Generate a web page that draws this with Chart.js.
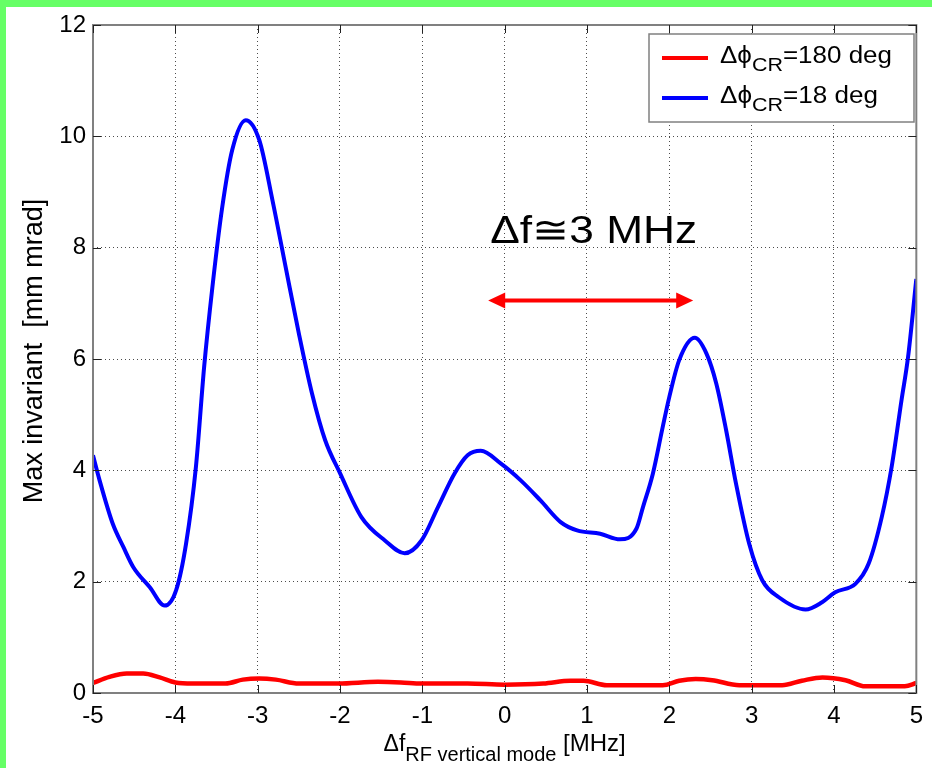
<!DOCTYPE html>
<html>
<head>
<meta charset="utf-8">
<title>Max invariant vs RF frequency offset</title>
<script src="https://cdn.jsdelivr.net/npm/chart.js@4/dist/chart.umd.min.js"></script>
<style>
  html, body { margin: 0; padding: 0; background: #fff; }
  canvas { display: block; }
</style>
</head>
<body>
<canvas id="invChart" width="932" height="768"></canvas>
<script>
// axis ticks
const X_TICKS = [-5, -4, -3, -2, -1, 0, 1, 2, 3, 4, 5]
const Y_TICKS = [0, 2, 4, 6, 8, 10, 12]

// dphi_CR = 180 deg
const RED_X = [-5.00, -4.80, -4.59, -4.39, -4.19, -4.00, -3.79, -3.39, -3.18, -2.98, -2.78, -2.50, -2.02, -1.54, -1.26, -1.01, -0.45, 0.00, 0.47, 0.80, 0.96, 1.24, 1.60, 1.92, 2.12, 2.32, 2.52, 2.85, 3.37, 3.61, 3.86, 4.14, 4.38, 4.86, 5.00]
const RED_Y = [0.18, 0.29, 0.35, 0.35, 0.28, 0.19, 0.17, 0.17, 0.24, 0.26, 0.24, 0.17, 0.17, 0.20, 0.19, 0.17, 0.17, 0.15, 0.17, 0.22, 0.22, 0.14, 0.14, 0.14, 0.22, 0.25, 0.23, 0.14, 0.14, 0.22, 0.28, 0.23, 0.12, 0.12, 0.18]

// dphi_CR = 18 deg
const BLUE_X = [-5.00, -4.92, -4.76, -4.63, -4.51, -4.31, -4.13, -3.99, -3.87, -3.75, -3.65, -3.55, -3.43, -3.31, -3.145, -2.98, -2.82, -2.66, -2.50, -2.34, -2.18, -2.00, -1.74, -1.455, -1.215, -1.01, -0.81, -0.61, -0.45, -0.29, -0.045, 0.195, 0.435, 0.68, 0.88, 1.16, 1.40, 1.60, 1.68, 1.80, 1.92, 2.00, 2.12, 2.31, 2.45, 2.57, 2.69, 2.81, 2.97, 3.13, 3.33, 3.655, 3.855, 4.015, 4.26, 4.42, 4.58, 4.70, 4.82, 4.90, 5.00]
const BLUE_Y = [4.27, 3.82, 3.04, 2.62, 2.26, 1.90, 1.57, 1.85, 2.68, 4.06, 5.86, 7.29, 8.73, 9.75, 10.29, 9.93, 8.85, 7.65, 6.46, 5.38, 4.54, 3.95, 3.16, 2.74, 2.51, 2.74, 3.34, 3.94, 4.27, 4.35, 4.12, 3.82, 3.46, 3.07, 2.92, 2.86, 2.76, 2.95, 3.34, 3.94, 4.78, 5.32, 5.98, 6.38, 6.10, 5.56, 4.72, 3.76, 2.68, 2.02, 1.72, 1.50, 1.63, 1.81, 1.96, 2.32, 3.16, 4.06, 5.26, 6.04, 7.44]

// frequency spacing annotation (double arrow + label)
const ARROW_X = [-0.20, 2.29]
const ARROW_Y = 7.05
const NOTE_TEXT = "\u0394f\u22453 MHz"

const FONT = "'Liberation Sans', Arial, Helvetica, sans-serif"
const GREEN = "#66ff66"
const FRAME = "#808080"

const toPoints = (xs, ys) => xs.map((x, i) => ({ x: x, y: ys[i] }))

// draws a run of text pieces (size, vertical shift) scaled horizontally by sx
function drawRich(ctx, parts, x, y, sx) {
  ctx.save()
  ctx.translate(x, y)
  ctx.scale(sx, 1)
  ctx.textAlign = "left"
  ctx.textBaseline = "alphabetic"
  let cx = 0
  parts.forEach((p) => {
    ctx.font = `${p.size}px ${FONT}`
    ctx.fillText(p.t, cx, p.dy || 0)
    cx += ctx.measureText(p.t).width
  })
  ctx.restore()
}

function richWidth(ctx, parts) {
  let w = 0
  parts.forEach((p) => {
    ctx.font = `${p.size}px ${FONT}`
    w += ctx.measureText(p.t).width
  })
  return w
}

const decorPlugin = {
  id: "decor",
  afterDraw(chart) {
    const ctx = chart.ctx
    const area = chart.chartArea
    const xs = chart.scales.x
    const ys = chart.scales.y

    ctx.save()

    // axes box
    ctx.strokeStyle = FRAME
    ctx.lineWidth = 2
    ctx.strokeRect(area.left, area.top, area.right - area.left, area.bottom - area.top)

    // inward tick marks on all four sides
    ctx.strokeStyle = "#222"
    ctx.lineWidth = 1
    ctx.beginPath()
    X_TICKS.forEach((v) => {
      const px = Math.round(xs.getPixelForValue(v)) + 0.5
      ctx.moveTo(px, area.bottom)
      ctx.lineTo(px, area.bottom - 8)
      ctx.moveTo(px, area.top)
      ctx.lineTo(px, area.top + 8)
    })
    Y_TICKS.forEach((v) => {
      const py = Math.round(ys.getPixelForValue(v)) + 0.5
      ctx.moveTo(area.left, py)
      ctx.lineTo(area.left + 8, py)
      ctx.moveTo(area.right, py)
      ctx.lineTo(area.right - 8, py)
    })
    ctx.stroke()

    // double arrow
    const ax0 = xs.getPixelForValue(ARROW_X[0])
    const ax1 = xs.getPixelForValue(ARROW_X[1])
    const ay = ys.getPixelForValue(ARROW_Y)
    const head = 17
    const half = 8
    ctx.strokeStyle = "#ff0000"
    ctx.fillStyle = "#ff0000"
    ctx.lineWidth = 4
    ctx.beginPath()
    ctx.moveTo(ax0 + head - 2, ay)
    ctx.lineTo(ax1 - head + 2, ay)
    ctx.stroke()
    ctx.beginPath()
    ctx.moveTo(ax0, ay)
    ctx.lineTo(ax0 + head, ay - half)
    ctx.lineTo(ax0 + head, ay + half)
    ctx.closePath()
    ctx.fill()
    ctx.beginPath()
    ctx.moveTo(ax1, ay)
    ctx.lineTo(ax1 - head, ay - half)
    ctx.lineTo(ax1 - head, ay + half)
    ctx.closePath()
    ctx.fill()

    // annotation label
    ctx.fillStyle = "#000"
    const note = [{ t: NOTE_TEXT, size: 38 }]
    drawRich(ctx, note, ax0 + 2, ay - 58, 207 / richWidth(ctx, note))

    // legend
    const lbox = { left: 649, top: 34, right: 914, bottom: 122 }
    ctx.fillStyle = "#fff"
    ctx.fillRect(lbox.left, lbox.top, lbox.right - lbox.left, lbox.bottom - lbox.top)
    ctx.strokeStyle = FRAME
    ctx.lineWidth = 1.5
    ctx.strokeRect(lbox.left, lbox.top, lbox.right - lbox.left, lbox.bottom - lbox.top)
    const entries = [
      { color: "#ff0000", deg: "=180 deg", y: 58, width: 172 },
      { color: "#0000ff", deg: "=18 deg", y: 98, width: 158 },
    ]
    entries.forEach((e) => {
      ctx.strokeStyle = e.color
      ctx.lineWidth = 4
      ctx.beginPath()
      ctx.moveTo(lbox.left + 13, e.y)
      ctx.lineTo(lbox.left + 59, e.y)
      ctx.stroke()
      ctx.fillStyle = "#000"
      const parts = [
        { t: "\u0394\u03d5", size: 23 },
        { t: "CR", size: 19, dy: 8 },
        { t: e.deg, size: 23 },
      ]
      drawRich(ctx, parts, lbox.left + 71, e.y + 5, e.width / richWidth(ctx, parts))
    })

    // y axis title
    ctx.save()
    ctx.translate(35, (area.top + area.bottom) / 2 - 8)
    ctx.rotate(-Math.PI / 2)
    ctx.font = `27px ${FONT}`
    ctx.fillStyle = "#000"
    ctx.textAlign = "center"
    ctx.textBaseline = "middle"
    ctx.fillText("Max invariant  [mm mrad]", 0, 0)
    ctx.restore()

    // x axis title with subscript
    const xt = [
      { t: "\u0394f", size: 23 },
      { t: "RF vertical mode", size: 20, dy: 10 },
      { t: " [MHz]", size: 24 },
    ]
    const xw = richWidth(ctx, xt)
    ctx.fillStyle = "#000"
    drawRich(ctx, xt, (area.left + area.right) / 2 - xw / 2, 751, 1)

    // page border
    ctx.fillStyle = GREEN
    ctx.fillRect(0, 0, chart.width, 7)
    ctx.fillRect(0, 0, 6, chart.height)

    ctx.restore()
  },
}

const gridColor = (edges) => (c) =>
  c.tick && edges.includes(c.tick.value) ? "rgba(0,0,0,0)" : "rgba(0,0,0,0.7)"

const ctx = document.getElementById("invChart").getContext("2d")

new Chart(ctx, {
  type: "line",
  data: {
    datasets: [
      {
        label: "\u0394\u03d5CR=180 deg",
        data: toPoints(RED_X, RED_Y),
        borderColor: "#ff0000",
        borderWidth: 4.5,
        pointRadius: 0,
        cubicInterpolationMode: "monotone",
      },
      {
        label: "\u0394\u03d5CR=18 deg",
        data: toPoints(BLUE_X, BLUE_Y),
        borderColor: "#0000ff",
        borderWidth: 4,
        pointRadius: 0,
        cubicInterpolationMode: "monotone",
      },
    ],
  },
  options: {
    responsive: false,
    animation: false,
    devicePixelRatio: 1,
    layout: { padding: { left: 0, top: 25, right: 10, bottom: 0 } },
    plugins: {
      legend: { display: false },
      tooltip: { enabled: false },
    },
    scales: {
      x: {
        type: "linear",
        min: -5,
        max: 5,
        afterBuildTicks: (s) => {
          s.ticks = X_TICKS.map((v) => ({ value: v }))
        },
        afterFit: (s) => {
          s.height = 75
        },
        grid: { color: gridColor([-5, 5]), lineWidth: 1, drawTicks: false },
        border: { display: false, dash: [1, 3] },
        ticks: {
          padding: 9,
          maxRotation: 0,
          autoSkip: false,
          color: "#000",
          font: { family: FONT, size: 24 },
          callback: (v) => String(v),
        },
      },
      y: {
        min: 0,
        max: 12,
        afterBuildTicks: (s) => {
          s.ticks = Y_TICKS.map((v) => ({ value: v }))
        },
        afterFit: (s) => {
          s.width = 93
        },
        grid: { color: gridColor([0, 12]), lineWidth: 1, drawTicks: false },
        border: { display: false, dash: [1, 3] },
        ticks: {
          padding: 7,
          color: "#000",
          font: { family: FONT, size: 24 },
          callback: (v) => String(v),
        },
      },
    },
  },
  plugins: [decorPlugin],
})
</script>
</body>
</html>
